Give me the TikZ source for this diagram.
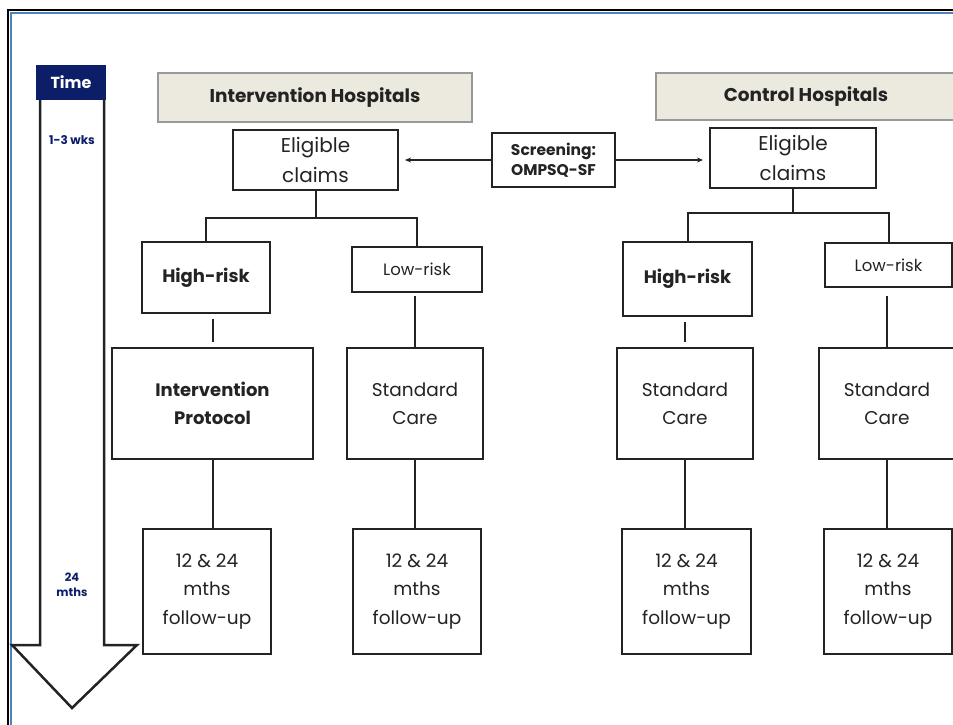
\documentclass[tikz,border=0pt]{standalone}
\usepackage{fontspec}
\setmainfont{Poppins}
\usetikzlibrary{arrows.meta, positioning, calc}
\definecolor{navy}{RGB}{12,30,104}
\definecolor{beige}{RGB}{236,233,223}
\definecolor{framblue}{RGB}{79,129,189}
\definecolor{ink}{RGB}{35,35,35}

\begin{document}
\begin{tikzpicture}[x=1pt, y=-1pt,
  box/.style={draw=ink, line width=2pt, inner sep=0pt, align=center, text=ink, font=\fontsize{18.5}{28.5}\selectfont},
  boldbox/.style={box, font=\fontsize{18}{28}\selectfont\bfseries},
  lowbox/.style={box, font=\fontsize{16.5}{20}\selectfont},
  hospbox/.style={draw=gray!80, line width=1.5pt, fill=beige, inner sep=0pt, text=ink, font=\fontsize{18.5}{22}\selectfont\bfseries},
  link/.style={draw=ink, line width=2pt},
  gaplink/.style={link, shorten <=5pt, shorten >=5pt}]
  \useasboundingbox (0,0) rectangle (953,725);
  % Page frame
  \draw[line width=2pt, black] (8,10) rectangle (970,740);
  \draw[line width=1.8pt, framblue] (11,13) rectangle (967,737);

  % Time arrow
  \draw[line width=2.5pt, ink, fill=white] (40,100) -- (40,645) -- (12,645) -- (72,708) -- (137,645) -- (104,645) -- (104,100);
  \node[fill=navy, minimum width=70pt, minimum height=35pt, inner sep=0pt, text=white, font=\fontsize{16}{18}\selectfont\bfseries] (time) at (71,82.5) {Time};
  \node[text=navy, font=\fontsize{12}{14}\selectfont\bfseries] (wks) at (72,140) {1-3 wks};
  \node[text=navy, align=center, font=\fontsize{11.5}{15}\selectfont\bfseries] (mths) at (72,585) {24\\mths};

  % Hospital headers
  \node[hospbox, minimum width=314pt, minimum height=49pt] (ihosp) at (315,97.5) {Intervention Hospitals};
  \node[hospbox, minimum width=300pt, minimum height=47pt] (chosp) at (806,96.5) {Control Hospitals};

  % Eligible claims and screening
  \node[box, minimum width=165pt, minimum height=60pt, font=\fontsize{20}{30}\selectfont] (elig1) at (315.5,160) {Eligible\\claims};
  \node[box, minimum width=166pt, minimum height=60pt, font=\fontsize{20}{30}\selectfont] (elig2) at (793,158) {Eligible\\claims};
  \node[box, minimum width=123pt, minimum height=54pt, font=\fontsize{15.5}{20}\selectfont\bfseries] (screen) at (553.5,160) {Screening:\\OMPSQ-SF};

  % Risk groups
  \node[boldbox, minimum width=128pt, minimum height=71pt] (high1) at (206,277.5) {High-risk};
  \node[lowbox, minimum width=130pt, minimum height=45pt] (low1) at (417,269.5) {Low-risk};
  \node[boldbox, minimum width=129pt, minimum height=74pt] (high2) at (687.5,279) {High-risk};
  \node[lowbox, minimum width=127pt, minimum height=44pt] (low2) at (888.5,265) {Low-risk};

  % Care
  \node[boldbox, minimum width=201pt, minimum height=111pt] (prot) at (212.5,403.5) {Intervention\\Protocol};
  \node[box, minimum width=136pt, minimum height=111pt] (std1) at (415,403.5) {Standard\\Care};
  \node[box, minimum width=136pt, minimum height=111pt] (std2) at (685,403.5) {Standard\\Care};
  \node[box, minimum width=136pt, minimum height=111pt] (std3) at (887,403.5) {Standard\\Care};

  % Follow-up
  \node[box, minimum width=128pt, minimum height=125pt] (fu1) at (207,591.5) {12 \& 24\\mths\\follow-up};
  \node[box, minimum width=128pt, minimum height=125pt] (fu2) at (417,591.5) {12 \& 24\\mths\\follow-up};
  \node[box, minimum width=129pt, minimum height=125pt] (fu3) at (686.5,591.5) {12 \& 24\\mths\\follow-up};
  \node[box, minimum width=128pt, minimum height=125pt] (fu4) at (888,591.5) {12 \& 24\\mths\\follow-up};

  % Screening arrows
  \draw[link, line width=1.5pt, -{Stealth[length=6pt, width=5pt]}, shorten >=6pt] (screen.west) -- (elig1.east);
  \draw[link, line width=1.5pt, -{Stealth[length=6pt, width=5pt]}, shorten >=6pt] (screen.east) -- (screen.east -| elig2.west);

  % Tree branches
  \coordinate (split1) at (315.5,218);
  \coordinate (split2) at (793,213);
  \draw[link] (elig1.south) -- (split1);
  \draw[link] (high1.north) |- (split1) -| (low1.north);
  \draw[link] (elig2.south) -- (split2);
  \draw[link] (high2.north) |- (split2) -| (low2.north);

  % Down to care and follow-up
  \draw[gaplink] (prot.north) -- (prot.north |- high1.south);
  \draw[link, shorten >=3pt] (std1.north) -- (std1.north |- low1.south);
  \draw[gaplink] (std2.north) -- (std2.north |- high2.south);
  \draw[link, shorten >=8pt] (std3.north) -- (std3.north |- low2.south);
  \draw[link] (prot.south) -- (prot.south |- fu1.north);
  \draw[link] (std1.south) -- (std1.south |- fu2.north);
  \draw[link] (std2.south) -- (std2.south |- fu3.north);
  \draw[link] (std3.south) -- (std3.south |- fu4.north);
\end{tikzpicture}
\end{document}
